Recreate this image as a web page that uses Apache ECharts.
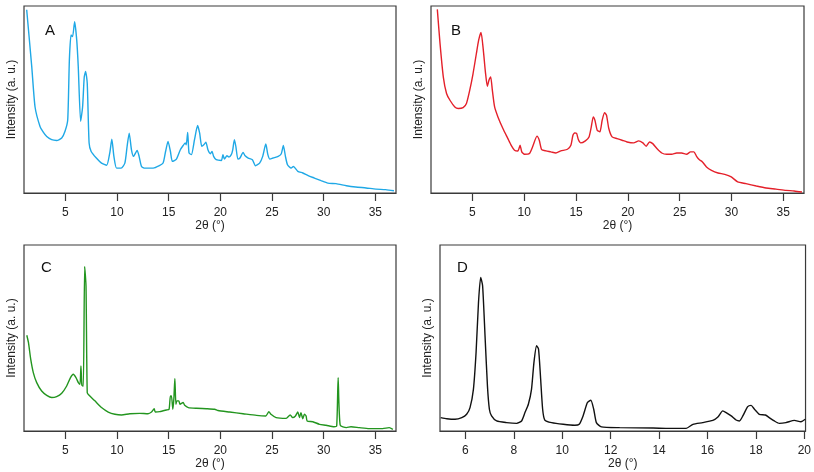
<!DOCTYPE html>
<html>
<head>
<meta charset="utf-8">
<script src="https://cdn.jsdelivr.net/npm/echarts@6/dist/echarts.min.js"></script>
<style>
  html, body { margin: 0; padding: 0; background: #fff; }
  #main { width: 814px; height: 472px; }
</style>
</head>
<body>
<div id="main"></div>
<script>
// panel A - blue
var thetaA = [1.26, 1.75, 2.07, 2.55, 2.88, 3.2, 3.68, 4.16, 4.65, 4.97, 5.23, 5.39, 5.55, 5.7, 5.9, 6.1, 6.25, 6.48, 6.67, 6.83, 6.96, 7.12, 7.3, 7.5, 8.0, 8.5, 9.0, 9.3, 9.5, 9.7, 9.96, 10.4, 10.76, 10.98, 11.18, 11.4, 11.6, 11.95, 12.14, 12.37, 12.7, 13.5, 14.1, 14.46, 14.7, 14.94, 15.17, 15.36, 15.75, 16.13, 16.4, 16.6, 16.7, 16.84, 16.97, 17.2, 17.5, 17.8, 18.0, 18.2, 18.4, 18.6, 18.8, 19.04, 19.2, 19.35, 19.6, 20.1, 20.25, 20.4, 20.64, 20.83, 21.06, 21.2, 21.36, 21.5, 21.7, 21.9, 22.2, 22.4, 22.7, 23.1, 23.4, 23.8, 24.1, 24.4, 24.6, 24.8, 25.1, 25.6, 25.9, 26.1, 26.3, 26.5, 26.85, 27.07, 27.5, 27.98, 28.5, 29.1, 29.75, 30.4, 31.2, 32.2, 33.1, 34.1, 35.06, 36.0, 36.8];
var intensityA = [98, 67.6, 46, 35.6, 32.4, 30.2, 28.5, 28.1, 29.4, 33, 39, 71, 84.5, 83.6, 91.6, 82, 67.6, 38.3, 46, 62, 65, 58.7, 26.7, 22.2, 18.7, 16, 14.8, 21.4, 28.8, 19.6, 13.3, 13.3, 16, 25, 32, 23.1, 19.6, 22.8, 19.6, 14.2, 13.3, 13.3, 14.6, 16, 22.2, 27.6, 22.2, 16.9, 18.1, 23.1, 25.4, 26.7, 25.8, 32.4, 21.4, 20.5, 28.5, 36.1, 32, 25, 25.8, 27.2, 23.1, 21, 22.2, 19.6, 17.8, 17.4, 20.5, 18.1, 19.9, 19.2, 20.5, 23.1, 28.5, 25, 18.1, 18.7, 21.7, 19.9, 18.7, 17.8, 14.6, 16, 19.6, 26.2, 20.5, 18.1, 18.7, 19.6, 21, 25.4, 19.6, 15.1, 13.3, 14.2, 11.6, 10.7, 9.3, 8, 6.6, 5.3, 5, 3.9, 3.2, 2.7, 2.1, 1.8, 1.2];

// panel B - red
var thetaB = [1.61, 1.87, 2.19, 2.5, 2.83, 3.3, 3.63, 4.1, 4.42, 4.74, 5.06, 5.38, 5.6, 5.83, 6.05, 6.25, 6.44, 6.6, 6.76, 6.92, 7.14, 7.46, 7.94, 8.42, 8.74, 9.06, 9.38, 9.6, 9.76, 10.02, 10.5, 10.8, 11.23, 11.45, 11.68, 12.1, 12.57, 13.05, 13.53, 14.17, 14.5, 14.7, 14.87, 15.06, 15.22, 15.45, 15.9, 16.25, 16.47, 16.66, 16.82, 17.04, 17.3, 17.52, 17.75, 17.94, 18.16, 18.48, 18.96, 19.44, 19.92, 20.56, 21.04, 21.45, 21.77, 22.09, 22.4, 22.8, 23.27, 23.75, 24.23, 24.71, 25.19, 25.67, 26.05, 26.37, 26.63, 26.88, 27.2, 27.59, 28.07, 28.7, 29.35, 29.98, 30.6, 31.4, 32.4, 33.34, 34.3, 35.26, 36.05, 36.8];
var intensityB = [98.2, 80, 62, 53.2, 49.6, 46, 45.2, 45.7, 47.9, 55, 63.9, 74.6, 81.8, 85.9, 76.4, 64.8, 57.1, 60.4, 62.1, 55, 46, 40.7, 34.5, 29.1, 25.5, 22.9, 22.5, 25.5, 22, 20.7, 21.1, 24.6, 30.4, 28.2, 23.2, 22.5, 22, 21.4, 22.5, 23.4, 25.5, 30.9, 32.1, 31.8, 28.6, 26.8, 27.9, 30, 35.4, 40.7, 38.9, 33.6, 32.7, 38.9, 42.9, 41.6, 34.5, 30, 29.1, 28.2, 27.3, 26.8, 27.9, 26.8, 25, 27.3, 26.4, 23.8, 21.4, 20.7, 20.7, 21.4, 21.4, 20.7, 22, 22, 19.6, 17.9, 16.6, 13.9, 12.1, 10.7, 10, 8.6, 5.9, 5, 3.75, 2.7, 2.1, 1.4, 1.1, 0.5];

// panel C - green
var thetaC = [1.27, 1.43, 1.65, 1.9, 2.23, 2.71, 3.2, 3.68, 4.16, 4.65, 5.13, 5.5, 5.77, 6.03, 6.26, 6.42, 6.51, 6.6, 6.74, 6.87, 7.0, 7.12, 7.3, 7.86, 8.5, 9.15, 9.8, 10.44, 11.24, 12.2, 13.0, 13.34, 13.6, 13.7, 14.14, 14.78, 15.04, 15.17, 15.27, 15.4, 15.5, 15.6, 15.7, 15.8, 15.98, 16.1, 16.4, 16.55, 16.9, 17.7, 18.65, 19.45, 19.77, 20.9, 22.2, 23.5, 24.4, 24.7, 24.9, 25.4, 26.37, 26.76, 27.0, 27.27, 27.5, 27.66, 27.8, 27.98, 28.14, 28.3, 28.4, 28.95, 29.6, 30.23, 31.0, 31.26, 31.4, 31.6, 32.2, 32.65, 33.45, 34.4, 35.7, 36.35, 36.7];
var intensityC = [51.5, 47.6, 38.6, 31.4, 26, 21.5, 19.2, 18, 18.5, 20.3, 24.2, 28.7, 30.5, 28.7, 26, 25.1, 35, 24.6, 24.2, 88.5, 78, 20.6, 19.2, 16.2, 12.6, 10.2, 9, 8.6, 9.3, 9.5, 9.3, 10.2, 12, 10.2, 10.4, 11.3, 11.7, 18.9, 18.9, 11.7, 17.1, 28.2, 14.4, 16.2, 16.2, 14.4, 15.3, 13.8, 12.6, 12.2, 12, 11.7, 11, 10.2, 9.3, 8.4, 8.1, 10.4, 9, 7.2, 6.8, 8.6, 7.2, 8.1, 10.2, 7.2, 9.9, 6.6, 9, 8.1, 5.4, 5, 3.6, 3.1, 2.3, 2.7, 28.7, 3.1, 1.8, 2.3, 1.8, 1.3, 1.3, 1.8, 0.9];

// panel D - black
var thetaD = [4.98, 5.23, 5.57, 5.85, 6.05, 6.19, 6.33, 6.44, 6.54, 6.63, 6.71, 6.81, 6.91, 6.99, 7.08, 7.29, 7.7, 8.12, 8.32, 8.46, 8.6, 8.73, 8.83, 8.94, 9.02, 9.1, 9.19, 9.28, 9.56, 10.04, 10.52, 10.7, 10.86, 11.04, 11.18, 11.3, 11.41, 11.62, 12.37, 13.75, 14.43, 15.12, 15.4, 15.8, 16.22, 16.43, 16.63, 16.77, 16.98, 17.18, 17.32, 17.46, 17.66, 17.8, 17.94, 18.14, 18.39, 18.55, 18.76, 18.97, 19.24, 19.59, 19.86, 20.04];
var intensityD = [7.2, 6.6, 6.3, 7.2, 9, 12.6, 22.4, 42.2, 69.1, 82.6, 78.1, 51.2, 24.2, 11.7, 8.1, 5.4, 4.5, 4.1, 5.4, 9.9, 14.4, 22.4, 36.8, 45.8, 44, 29.6, 11.7, 5.9, 4.5, 3.6, 3.1, 3.6, 8.1, 15.3, 16.5, 11.7, 4.5, 2.2, 1.8, 1.6, 1.4, 1.4, 3.6, 4.5, 5.7, 7.5, 10.8, 9.9, 8.1, 5.9, 5.4, 8.1, 13.1, 13.8, 11.7, 9, 8.6, 7.2, 5.4, 4.1, 4.5, 5.7, 5, 6.3];

var ticksWide = [5, 10, 15, 20, 25, 30, 35];
var ticksD = [6, 8, 10, 12, 14, 16, 18, 20];
var panelLabels = ['A', 'B', 'C', 'D'];
var xAxisTitle = '2θ (°)';
var yAxisTitle = 'Intensity (a. u.)';

function zip(xs, ys) {
  var out = [];
  for (var i = 0; i < xs.length; i++) {
    out.push([xs[i], ys[i]]);
  }
  return out;
}

var font = 'Liberation Sans, Arial, sans-serif';
var frame = '#3a3a3a';

var grids = [
  { left: 24, top: 6, width: 372, height: 187 },
  { left: 431, top: 6, width: 373, height: 187 },
  { left: 24, top: 245, width: 372, height: 186 },
  { left: 440, top: 245, width: 367, height: 186 }
];
grids.forEach(function (g) {
  g.show = true;
  g.borderColor = frame;
  g.borderWidth = 1.2;
  g.backgroundColor = 'transparent';
});

function makeX(idx, min, max, ticks, gap) {
  return {
    type: 'value', gridIndex: idx, min: min, max: max,
    name: xAxisTitle, nameLocation: 'middle', nameGap: gap,
    nameTextStyle: { fontFamily: font, fontSize: 12, color: '#222' },
    splitLine: { show: false },
    axisLine: { show: true, onZero: false, lineStyle: { color: frame, width: 1.2 } },
    axisTick: { show: true, length: 8, customValues: ticks, lineStyle: { color: frame, width: 1.2 } },
    axisLabel: { customValues: ticks, margin: 14, fontFamily: font, fontSize: 12, color: '#222' }
  };
}

function makeY(idx) {
  return {
    type: 'value', gridIndex: idx, min: 0, max: 100,
    name: yAxisTitle, nameLocation: 'middle', nameGap: 6, nameRotate: 90,
    nameTextStyle: { fontFamily: font, fontSize: 12, color: '#222' },
    splitLine: { show: false },
    axisLine: { show: false },
    axisTick: { show: false },
    axisLabel: { show: false }
  };
}

function makeSeries(idx, data, color) {
  return {
    type: 'line', xAxisIndex: idx, yAxisIndex: idx,
    data: data, showSymbol: false, smooth: 0.2, animation: false,
    lineStyle: { color: color, width: 1.4 }
  };
}

var letterPos = [[45, 23], [451, 23], [41, 260], [457, 260]];

var option = {
  animation: false,
  grid: grids,
  xAxis: [
    makeX(0, 1, 37, ticksWide, 22),
    makeX(1, 1, 37, ticksWide, 27),
    makeX(2, 1, 37, ticksWide, 27),
    makeX(3, 4.95, 20.05, ticksD, 27)
  ],
  yAxis: [makeY(0), makeY(1), makeY(2), makeY(3)],
  series: [
    makeSeries(0, zip(thetaA, intensityA), '#1fa8e6'),
    makeSeries(1, zip(thetaB, intensityB), '#e4202a'),
    makeSeries(2, zip(thetaC, intensityC), '#23951f'),
    makeSeries(3, zip(thetaD, intensityD), '#111111')
  ],
  graphic: panelLabels.map(function (t, i) {
    return {
      type: 'text', left: letterPos[i][0], top: letterPos[i][1],
      style: { text: t, fontFamily: font, fontSize: 15, fill: '#111' }
    };
  })
};

var chart = echarts.init(document.getElementById('main'), null, { renderer: 'canvas' });
chart.setOption(option);
</script>
</body>
</html>
